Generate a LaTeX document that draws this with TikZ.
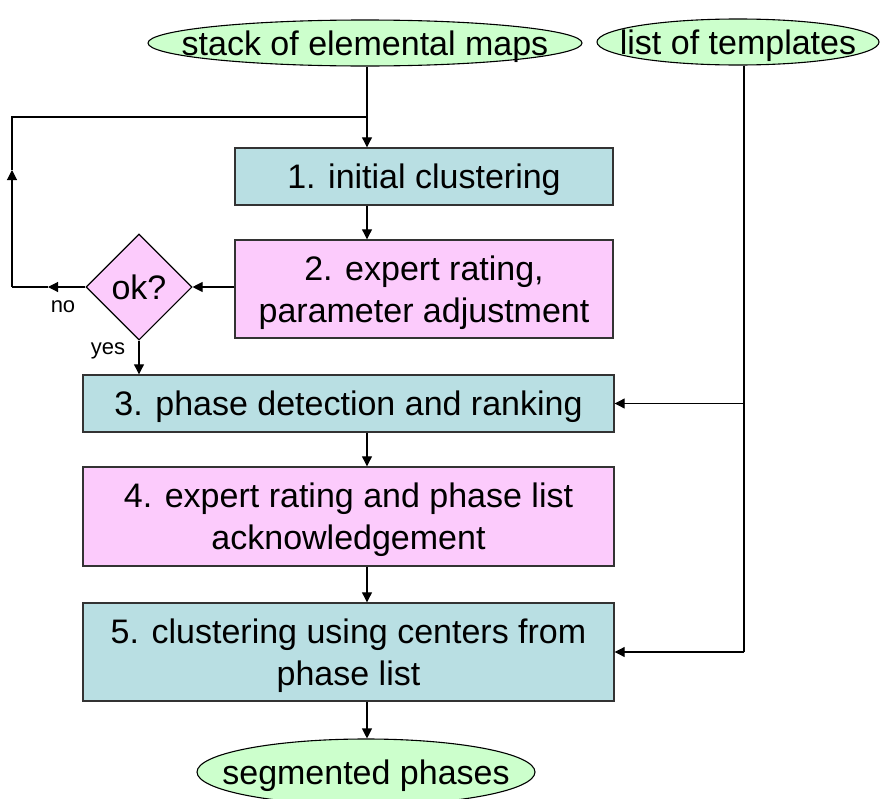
\documentclass[tikz,border=0pt]{standalone}
\usepackage{fontspec}
\setmainfont{Liberation Sans}
\usetikzlibrary{shapes.geometric,arrows.meta}
\definecolor{teal1}{HTML}{B9DFE3}
\definecolor{pink1}{HTML}{FCCBFC}
\definecolor{green1}{HTML}{CCFFCC}
\begin{document}
\begin{tikzpicture}[x=1pt,y=-1pt,
  bigtext/.style={font=\fontsize{34}{42}\selectfont,text depth=0pt},
  term/.style={ellipse,draw=black,line width=1.1pt,fill=green1,inner sep=0pt},
  termtext/.style={bigtext,inner sep=0pt},
  procbox/.style={rectangle,draw=black!80,line width=1.4pt,bigtext,align=center,inner sep=0pt},
  tealbox/.style={procbox,fill=teal1},
  pinkbox/.style={procbox,fill=pink1},
  decision/.style={diamond,draw=black,line width=1.1pt,fill=pink1,bigtext,inner sep=0pt,minimum width=106pt,minimum height=106pt},
  conn/.style={line width=1.1pt,draw=black},
  arr/.style={conn,-{Triangle[length=10pt,width=10pt]}},
  small/.style={font=\fontsize{22}{26}\selectfont}
]
\useasboundingbox (0,0) rectangle (881,798);
\begin{scope}
\clip (0,0) rectangle (881,798);
\node[term,minimum width=434pt,minimum height=46pt] (stack) at (365,43) {};
\node[termtext] (stacktext) at (stack.center) {stack of elemental maps};
\node[term,minimum width=282pt,minimum height=46pt] (list) at (738,42) {};
\node[termtext] (listtext) at (list.center) {list of templates};
\node[tealbox,minimum width=378pt,minimum height=57pt] (b1) at (424,176.5) {1. initial clustering};
\node[pinkbox,minimum width=378pt,minimum height=98pt] (b2) at (424,289) {2. expert rating,\\parameter adjustment};
\node[decision] (ok) at (139,287) {ok?};
\node[tealbox,minimum width=531pt,minimum height=57pt] (b3) at (348.5,403.5) {3. phase detection and ranking};
\node[pinkbox,minimum width=531pt,minimum height=99pt] (b4) at (348.5,516.5) {4. expert rating and phase list\\acknowledgement};
\node[tealbox,minimum width=531pt,minimum height=98pt] (b5) at (348.5,652) {5. clustering using centers from\\phase list};
\node[term,minimum width=338pt,minimum height=66pt] (seg) at (366,772) {};
\node[termtext] (segtext) at (seg.center) {segmented phases};
\end{scope}
\coordinate (spine) at (367,0);
\coordinate (trunk) at (744,0);
\coordinate (join) at (367,117);
\coordinate (loopTop) at (12,117);
\coordinate (loopBot) at (12,287);
\coordinate (noTip) at (48,287);
\coordinate (upTip) at (12,170);
\node[small] (no) at (63,307) {no};
\node[small] (yes) at (108,351) {yes};
% main spine
\draw[conn] (stack.south -| spine) -- (join);
\draw[arr] (join) -- (b1.north -| spine);
\draw[arr] (b1.south -| spine) -- (b2.north -| spine);
\draw[arr] (b2.west |- ok.east) -- (ok.east);
\draw[arr] (ok.west) -- (noTip);
\draw[conn] (noTip) -- (loopBot);
\draw[arr] (loopBot) -- (upTip);
\draw[conn] (upTip) -- (loopTop) -- (join);
\draw[arr] (ok.south) -- (ok.south |- b3.north);
\draw[arr] (b3.south -| spine) -- (b4.north -| spine);
\draw[arr] (b4.south -| spine) -- (b5.north -| spine);
\draw[arr] (b5.south -| spine) -- (seg.north -| spine);
% templates
\draw[conn] (list.south -| trunk) -- (trunk |- b5.east) coordinate (t5);
\draw[arr] (t5) -- (b5.east);
\draw[arr] (trunk |- b3.east) -- (b3.east);
\end{tikzpicture}
\end{document}
